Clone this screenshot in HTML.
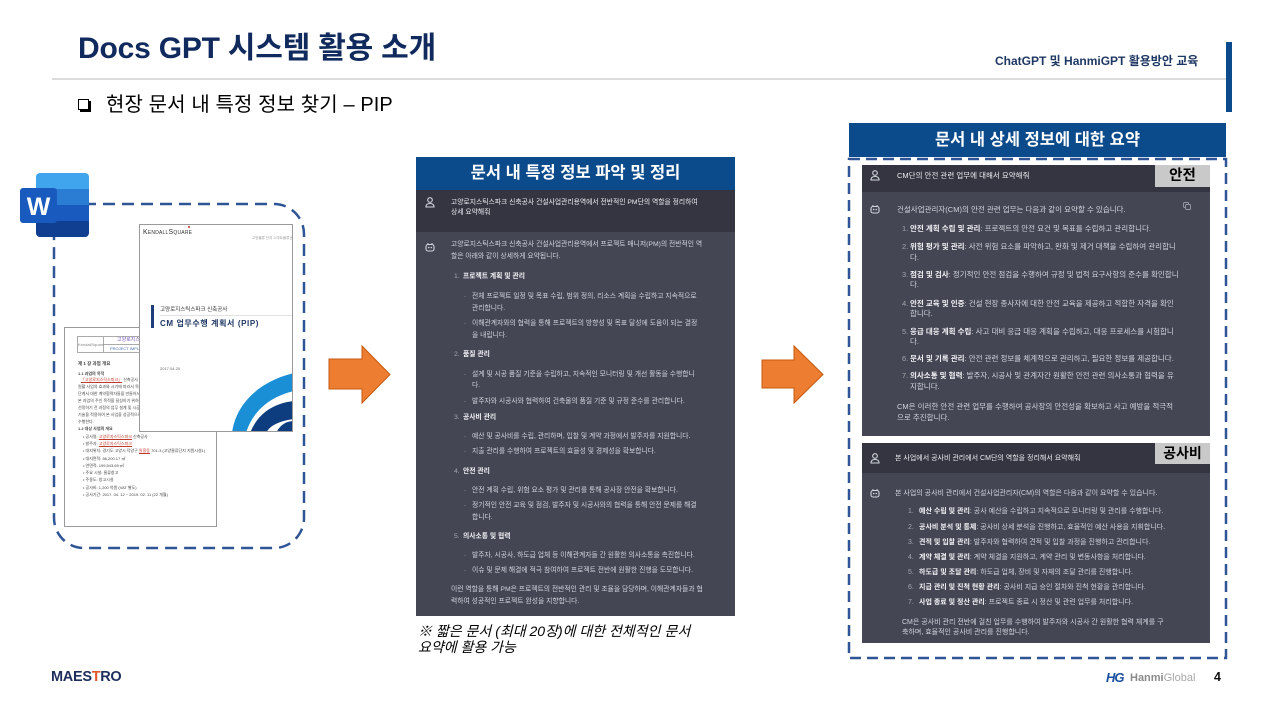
<!DOCTYPE html>
<html>
<head>
<meta charset="utf-8">
<style>
*{margin:0;padding:0;box-sizing:border-box;}
body{width:1280px;height:720px;position:relative;overflow:hidden;background:#fff;font-family:"Liberation Sans","Noto Sans CJK KR",sans-serif;}
.a{position:absolute;white-space:nowrap;}
.mt{position:absolute;white-space:nowrap;font-size:6.8px;line-height:8px;color:#d1d5db;}
.rt{position:absolute;white-space:nowrap;font-size:7.5px;line-height:9px;color:#d1d5db;}
.r2{position:absolute;white-space:nowrap;font-size:7px;line-height:9px;color:#d1d5db;}
.b{font-weight:bold;color:#f1f1f4;}
.n{color:#a3a5ad;}
.d{color:#7d7f88;}
.tiny{position:absolute;white-space:nowrap;font-size:4px;line-height:5px;color:#444;}
</style>
</head>
<body>

<!-- Header -->
<div class="a" style="left:78px;top:30px;font-size:30px;font-weight:bold;color:#102a5e;letter-spacing:-0.2px;line-height:37px;">Docs GPT 시스템 활용 소개</div>
<div class="a" style="left:995px;top:53px;font-size:12px;font-weight:bold;color:#1f3864;line-height:16px;">ChatGPT 및 HanmiGPT 활용방안 교육</div>
<div class="a" style="left:1226px;top:42px;width:6px;height:70px;background:#0b4a8b;"></div>
<div class="a" style="left:52px;top:78px;width:1174px;height:2px;background:#dcdcdc;"></div>

<!-- Subtitle -->
<div class="a" style="left:78px;top:99px;width:11px;height:11px;border:1.5px solid #000;box-shadow:2px 2px 0 #000;background:#fff;"></div>
<div class="a" style="left:106px;top:93px;font-size:20px;color:#000;line-height:25px;letter-spacing:0.1px;">현장 문서 내 특정 정보 찾기 – PIP</div>

<!-- Left dashed box + arrows -->
<svg class="a" style="left:0;top:0;" width="1280" height="720" viewBox="0 0 1280 720">
  <rect x="54" y="204" width="250" height="344" rx="30" ry="30" fill="none" stroke="#2f5597" stroke-width="2.5" stroke-dasharray="12 7"/>
  <rect x="849" y="159" width="377" height="499" fill="none" stroke="#2f5597" stroke-width="2.5" stroke-dasharray="11 6"/>
  <polygon points="329,359 362,359 362,346 390,374.5 362,403 362,389 329,389" fill="#ed7d31" stroke="#c55a11" stroke-width="1"/>
  <polygon points="762,360 794,360 794,346 823,374.5 794,403 794,388 762,388" fill="#ed7d31" stroke="#c55a11" stroke-width="1"/>
</svg>

<!-- Back document page -->
<div class="a" style="left:64px;top:327px;width:153px;height:200px;background:#fff;border:1px solid #9a9a9a;overflow:hidden;">
  <div class="a" style="left:12px;top:8px;width:140px;height:17px;border:1px solid #aaa;"></div>
  <div class="a" style="left:38px;top:8px;width:1px;height:17px;background:#aaa;"></div>
  <div class="a" style="left:38px;top:16px;width:110px;height:1px;background:#aaa;"></div>
  <div class="tiny" style="left:13px;top:14px;color:#888;">KendallSquare</div>
  <div class="tiny" style="left:52px;top:10px;color:#7b5fb8;font-size:5px;">고양로지스틱스파크</div>
  <div class="tiny" style="left:45px;top:18px;color:#4a6fb8;">PROJECT IMPLEMENTATION</div>
  <div class="tiny" style="left:13px;top:33px;font-weight:bold;font-size:4.5px;">제 1 장 과업 개요</div>
  <div class="tiny" style="left:13px;top:43px;font-weight:bold;">1.1 과업의 목적</div>
  <div class="tiny" style="left:16px;top:49px;"><span style="color:#c0392b;text-decoration:underline;">「고양로지스틱스파크」</span> 신축공사 건설사업관리용역의</div>
  <div class="tiny" style="left:13px;top:56px;">원활 사업의 효과와 시기에 따라서 목적물을 확보하기 위한</div>
  <div class="tiny" style="left:13px;top:63px;">단계서 대한 계약협력자들을 만들어서 관리를 통해서</div>
  <div class="tiny" style="left:13px;top:70px;">본 과업의 주인 목적을 달성하기 위하여 건설사업관리</div>
  <div class="tiny" style="left:13px;top:77px;">선정하기 전 과정의 업무 설계 및 시공 단계의 관리</div>
  <div class="tiny" style="left:13px;top:84px;">기술을 적용하여 본 사업을 성공적으로 완료하기 위해</div>
  <div class="tiny" style="left:13px;top:91px;">수행한다.</div>
  <div class="tiny" style="left:13px;top:98px;font-weight:bold;">1.2 대상 사업의 개요</div>
  <div class="tiny" style="left:18px;top:106px;">• 공사명: <span style="color:#c0392b;text-decoration:underline;">고양로지스틱스파크</span> 신축공사</div>
  <div class="tiny" style="left:18px;top:113px;">• 발주자: <span style="color:#c0392b;text-decoration:underline;">고양로지스틱스파크</span></div>
  <div class="tiny" style="left:18px;top:120px;">• 대지위치: 경기도 고양시 덕양구 <span style="color:#c0392b;text-decoration:underline;">원흥동</span> 701-3 (고양물류단지 지원시설1)</div>
  <div class="tiny" style="left:18px;top:128px;">• 대지면적: 56,200.17 ㎡</div>
  <div class="tiny" style="left:18px;top:135px;">• 연면적: 199,543.69 ㎡</div>
  <div class="tiny" style="left:18px;top:142px;">• 주요 시설: 물류창고</div>
  <div class="tiny" style="left:18px;top:149px;">• 주용도: 창고시설</div>
  <div class="tiny" style="left:18px;top:157px;">• 공사비: 1,200 억원 (VAT 별도)</div>
  <div class="tiny" style="left:18px;top:164px;">• 공사기간: 2017. 04. 12 ~ 2019. 02. 11 (22 개월)</div>
</div>

<!-- Front document page -->
<div class="a" style="left:139px;top:224px;width:154px;height:208px;background:#fff;border:1px solid #9a9a9a;overflow:hidden;">
  <div class="a" style="left:3px;top:3px;font-size:7px;color:#333;font-variant:small-caps;letter-spacing:0.2px;line-height:9px;">KendallSquare</div>
  <div class="a" style="left:48px;top:1px;width:2px;height:2px;border-radius:1px;background:#c0392b;"></div>
  <div class="tiny" style="left:112px;top:11px;color:#999;font-size:3.5px;">고양물류 단지 스마트물류센터</div>
  <div class="a" style="left:11px;top:80px;width:3px;height:23px;background:#1f3d7a;"></div>
  <div class="tiny" style="left:20px;top:82px;font-size:5.5px;line-height:6px;color:#333;">고양로지스틱스파크 신축공사</div>
  <div class="a" style="left:20px;top:90px;width:134px;height:1px;background:#e2e2e2;"></div>
  <div class="a" style="left:20px;top:94px;font-size:8px;font-weight:bold;color:#1f3864;letter-spacing:0.6px;line-height:10px;">CM 업무수행 계획서 (PIP)</div>
  <div class="tiny" style="left:20px;top:141px;color:#666;">2017.04.20</div>
  <svg class="a" style="left:0;top:0;" width="154" height="208" viewBox="0 0 154 208">
    <path d="M92 208 C96 178 120 156 154 148 L154 166 C128 172 112 188 106 208 Z" fill="#1a8fd6"/>
    <path d="M110 208 C118 188 134 178 154 176 L154 194 C140 196 130 200 126 208 Z" fill="#0d3d7e"/>
    <path d="M136 208 C140 200 146 196 154 196 L154 208 Z" fill="#0d3d7e"/>
  </svg>
</div>

<!-- Word icon -->
<svg class="a" style="left:20px;top:173px;" width="70" height="65" viewBox="0 0 70 65">
  <defs><clipPath id="wc"><rect x="16" y="0" width="53" height="64" rx="4"/></clipPath></defs>
  <g clip-path="url(#wc)">
    <rect x="16" y="0" width="53" height="16" fill="#41a5ee"/>
    <rect x="16" y="16" width="53" height="16" fill="#2b7cd3"/>
    <rect x="16" y="32" width="53" height="16" fill="#185abd"/>
    <rect x="16" y="48" width="53" height="16" fill="#103f91"/>
  </g>
  <rect x="0" y="15" width="37" height="35" rx="3" fill="#185abd"/>
  <text x="18.5" y="42" text-anchor="middle" font-family="Liberation Sans, sans-serif" font-weight="bold" font-size="25" fill="#fff">W</text>
</svg>

<!-- Middle panel -->
<div class="a" style="left:416px;top:157px;width:319px;height:33px;background:#0b4a8b;color:#fff;font-size:16.5px;font-weight:bold;text-align:center;line-height:33px;">문서 내 특정 정보 파악 및 정리</div>
<div class="a" style="left:416px;top:190px;width:319px;height:42px;background:#343541;"></div>
<div class="a" style="left:416px;top:232px;width:319px;height:384px;background:#444654;"></div>

<svg class="a" style="left:425px;top:197px;" width="10" height="11" viewBox="0 0 10 11"><circle cx="5" cy="3" r="2.3" fill="none" stroke="#d1d5db" stroke-width="1.1"/><path d="M1 10 Q1 6.5 5 6.5 Q9 6.5 9 10 Z" fill="none" stroke="#d1d5db" stroke-width="1.1"/></svg>
<svg class="a" style="left:425px;top:242px;" width="10" height="10" viewBox="0 0 10 10"><rect x="1" y="2.5" width="8" height="6.5" rx="2" fill="none" stroke="#d1d5db" stroke-width="1.1"/><circle cx="3.7" cy="5.5" r="0.8" fill="#d1d5db"/><circle cx="6.3" cy="5.5" r="0.8" fill="#d1d5db"/><path d="M3 2.5 L3 1 M7 2.5 L7 1" stroke="#d1d5db" stroke-width="1"/></svg>

<div class="mt" style="left:451px;top:199px;color:#ececf1;">고양로지스틱스파크 신축공사 건설사업관리용역에서 전반적인 PM단의 역할을 정리하여</div>
<div class="mt" style="left:451px;top:209px;color:#ececf1;">상세 요약해줘</div>

<div class="mt" style="left:451px;top:241px;">고양로지스틱스파크 신축공사 건설사업관리용역에서 프로젝트 매니저(PM)의 전반적인 역</div>
<div class="mt" style="left:451px;top:253px;">할은 아래와 같이 상세하게 요약됩니다.</div>

<div class="mt n" style="left:454px;top:273px;">1.</div><div class="mt b" style="left:463px;top:273px;">프로젝트 계획 및 관리</div>
<div class="mt d" style="left:464px;top:293px;">-</div><div class="mt" style="left:472px;top:293px;">전체 프로젝트 일정 및 목표 수립, 범위 정의, 리소스 계획을 수립하고 지속적으로</div>
<div class="mt" style="left:472px;top:305px;">관리합니다.</div>
<div class="mt d" style="left:464px;top:320px;">-</div><div class="mt" style="left:472px;top:320px;">이해관계자와의 협력을 통해 프로젝트의 방향성 및 목표 달성에 도움이 되는 결정</div>
<div class="mt" style="left:472px;top:332px;">을 내립니다.</div>

<div class="mt n" style="left:454px;top:351px;">2.</div><div class="mt b" style="left:463px;top:351px;">품질 관리</div>
<div class="mt d" style="left:464px;top:371px;">-</div><div class="mt" style="left:472px;top:371px;">설계 및 시공 품질 기준을 수립하고, 지속적인 모니터링 및 개선 활동을 수행합니</div>
<div class="mt" style="left:472px;top:382px;">다.</div>
<div class="mt d" style="left:464px;top:398px;">-</div><div class="mt" style="left:472px;top:398px;">발주자와 시공사와 협력하여 건축물의 품질 기준 및 규정 준수를 관리합니다.</div>

<div class="mt n" style="left:454px;top:414px;">3.</div><div class="mt b" style="left:463px;top:414px;">공사비 관리</div>
<div class="mt d" style="left:464px;top:433px;">-</div><div class="mt" style="left:472px;top:433px;">예산 및 공사비를 수립, 관리하며, 입찰 및 계약 과정에서 발주자를 지원합니다.</div>
<div class="mt d" style="left:464px;top:448px;">-</div><div class="mt" style="left:472px;top:448px;">지출 관리를 수행하여 프로젝트의 효율성 및 경제성을 확보합니다.</div>

<div class="mt n" style="left:454px;top:468px;">4.</div><div class="mt b" style="left:463px;top:468px;">안전 관리</div>
<div class="mt d" style="left:464px;top:487px;">-</div><div class="mt" style="left:472px;top:487px;">안전 계획 수립, 위험 요소 평가 및 관리를 통해 공사장 안전을 확보합니다.</div>
<div class="mt d" style="left:464px;top:502px;">-</div><div class="mt" style="left:472px;top:502px;">정기적인 안전 교육 및 점검, 발주자 및 시공사와의 협력을 통해 안전 문제를 해결</div>
<div class="mt" style="left:472px;top:514px;">합니다.</div>

<div class="mt n" style="left:454px;top:533px;">5.</div><div class="mt b" style="left:463px;top:533px;">의사소통 및 협력</div>
<div class="mt d" style="left:464px;top:552px;">-</div><div class="mt" style="left:472px;top:552px;">발주자, 시공사, 하도급 업체 등 이해관계자들 간 원활한 의사소통을 촉진합니다.</div>
<div class="mt d" style="left:464px;top:567px;">-</div><div class="mt" style="left:472px;top:567px;">이슈 및 문제 해결에 적극 참여하여 프로젝트 전반에 원활한 진행을 도모합니다.</div>

<div class="mt" style="left:451px;top:586px;">이런 역할을 통해 PM은 프로젝트의 전반적인 관리 및 조율을 담당하며, 이해관계자들과 협</div>
<div class="mt" style="left:451px;top:598px;">력하여 성공적인 프로젝트 완성을 지향합니다.</div>

<!-- Note -->
<div class="a" style="left:418px;top:623px;font-size:14px;font-style:italic;color:#000;line-height:16px;">※ 짧은 문서 (최대 20장)에 대한 전체적인 문서</div>
<div class="a" style="left:418px;top:639px;font-size:14px;font-style:italic;color:#000;line-height:16px;">요약에 활용 가능</div>

<!-- Right panel header -->
<div class="a" style="left:849px;top:123px;width:377px;height:34px;background:#0b4a8b;color:#fff;font-size:16.5px;font-weight:bold;text-align:center;line-height:34px;">문서 내 상세 정보에 대한 요약</div>

<!-- Right panel 1 -->
<div class="a" style="left:862px;top:165px;width:348px;height:27px;background:#343541;"></div>
<div class="a" style="left:862px;top:192px;width:348px;height:244px;background:#444654;"></div>
<div class="a" style="left:1155px;top:165px;width:55px;height:22px;background:#c9c9c9;color:#000;font-size:14.5px;font-weight:bold;text-align:center;line-height:22px;">안전</div>

<svg class="a" style="left:870px;top:170px;" width="10" height="11" viewBox="0 0 10 11"><circle cx="5" cy="3" r="2.3" fill="none" stroke="#d1d5db" stroke-width="1.1"/><path d="M1 10 Q1 6.5 5 6.5 Q9 6.5 9 10 Z" fill="none" stroke="#d1d5db" stroke-width="1.1"/></svg>
<svg class="a" style="left:870px;top:204px;" width="10" height="10" viewBox="0 0 10 10"><rect x="1" y="2.5" width="8" height="6.5" rx="2" fill="none" stroke="#d1d5db" stroke-width="1.1"/><circle cx="3.7" cy="5.5" r="0.8" fill="#d1d5db"/><circle cx="6.3" cy="5.5" r="0.8" fill="#d1d5db"/><path d="M3 2.5 L3 1 M7 2.5 L7 1" stroke="#d1d5db" stroke-width="1"/></svg>
<svg class="a" style="left:1183px;top:202px;" width="8" height="8" viewBox="0 0 8 8"><rect x="0.5" y="0.5" width="5" height="5" rx="1" fill="none" stroke="#9a9ca5" stroke-width="0.9"/><rect x="2.5" y="2.5" width="5" height="5" rx="1" fill="#444654" stroke="#9a9ca5" stroke-width="0.9"/></svg>

<div class="rt" style="left:897px;top:170.5px;color:#ececf1;">CM단의 안전 관련 업무에 대해서 요약해줘</div>
<div class="rt" style="left:897px;top:204.5px;">건설사업관리자(CM)의 안전 관련 업무는 다음과 같이 요약할 수 있습니다.</div>

<div class="rt n" style="left:902px;top:223.5px;">1.</div><div class="rt" style="left:910px;top:223.5px;"><span class="b">안전 계획 수립 및 관리</span>: 프로젝트의 안전 요건 및 목표를 수립하고 관리합니다.</div>
<div class="rt n" style="left:902px;top:241.5px;">2.</div><div class="rt" style="left:910px;top:241.5px;"><span class="b">위험 평가 및 관리</span>: 사전 위험 요소를 파악하고, 완화 및 제거 대책을 수립하여 관리합니</div>
<div class="rt" style="left:910px;top:252.5px;">다.</div>
<div class="rt n" style="left:902px;top:269.5px;">3.</div><div class="rt" style="left:910px;top:269.5px;"><span class="b">점검 및 검사</span>: 정기적인 안전 점검을 수행하여 규정 및 법적 요구사항의 준수를 확인합니</div>
<div class="rt" style="left:910px;top:279.5px;">다.</div>
<div class="rt n" style="left:902px;top:298.5px;">4.</div><div class="rt" style="left:910px;top:298.5px;"><span class="b">안전 교육 및 인증</span>: 건설 현장 종사자에 대한 안전 교육을 제공하고 적합한 자격을 확인</div>
<div class="rt" style="left:910px;top:308.5px;">합니다.</div>
<div class="rt n" style="left:902px;top:326.5px;">5.</div><div class="rt" style="left:910px;top:326.5px;"><span class="b">응급 대응 계획 수립</span>: 사고 대비 응급 대응 계획을 수립하고, 대응 프로세스를 시험합니</div>
<div class="rt" style="left:910px;top:336.5px;">다.</div>
<div class="rt n" style="left:902px;top:353.5px;">6.</div><div class="rt" style="left:910px;top:353.5px;"><span class="b">문서 및 기록 관리</span>: 안전 관련 정보를 체계적으로 관리하고, 필요한 정보를 제공합니다.</div>
<div class="rt n" style="left:902px;top:370.5px;">7.</div><div class="rt" style="left:910px;top:370.5px;"><span class="b">의사소통 및 협력</span>: 발주자, 시공사 및 관계자간 원활한 안전 관련 의사소통과 협력을 유</div>
<div class="rt" style="left:910px;top:381.5px;">지합니다.</div>
<div class="rt" style="left:897px;top:401.5px;">CM은 이러한 안전 관련 업무를 수행하여 공사장의 안전성을 확보하고 사고 예방을 적극적</div>
<div class="rt" style="left:897px;top:412.5px;">으로 추진합니다.</div>

<!-- Right panel 2 -->
<div class="a" style="left:862px;top:443px;width:348px;height:30px;background:#343541;"></div>
<div class="a" style="left:862px;top:473px;width:348px;height:170px;background:#444654;"></div>
<div class="a" style="left:1155px;top:443px;width:55px;height:21px;background:#c9c9c9;color:#000;font-size:14px;font-weight:bold;text-align:center;line-height:21px;">공사비</div>

<svg class="a" style="left:870px;top:453px;" width="10" height="11" viewBox="0 0 10 11"><circle cx="5" cy="3" r="2.3" fill="none" stroke="#d1d5db" stroke-width="1.1"/><path d="M1 10 Q1 6.5 5 6.5 Q9 6.5 9 10 Z" fill="none" stroke="#d1d5db" stroke-width="1.1"/></svg>
<svg class="a" style="left:870px;top:488px;" width="10" height="10" viewBox="0 0 10 10"><rect x="1" y="2.5" width="8" height="6.5" rx="2" fill="none" stroke="#d1d5db" stroke-width="1.1"/><circle cx="3.7" cy="5.5" r="0.8" fill="#d1d5db"/><circle cx="6.3" cy="5.5" r="0.8" fill="#d1d5db"/><path d="M3 2.5 L3 1 M7 2.5 L7 1" stroke="#d1d5db" stroke-width="1"/></svg>

<div class="r2" style="left:895px;top:453.5px;color:#ececf1;">본 사업에서 공사비 관리에서 CM단의 역할을 정리해서 요약해줘</div>
<div class="r2" style="left:895px;top:488.5px;">본 사업의 공사비 관리에서 건설사업관리자(CM)의 역할은 다음과 같이 요약할 수 있습니다.</div>

<div class="r2 n" style="left:908px;top:506.5px;">1.</div><div class="r2" style="left:919px;top:506.5px;"><span class="b">예산 수립 및 관리</span>: 공사 예산을 수립하고 지속적으로 모니터링 및 관리를 수행합니다.</div>
<div class="r2 n" style="left:908px;top:522.5px;">2.</div><div class="r2" style="left:919px;top:522.5px;"><span class="b">공사비 분석 및 통제</span>: 공사비 상세 분석을 진행하고, 효율적인 예산 사용을 지휘합니다.</div>
<div class="r2 n" style="left:908px;top:537.5px;">3.</div><div class="r2" style="left:919px;top:537.5px;"><span class="b">견적 및 입찰 관리</span>: 발주자와 협력하여 견적 및 입찰 과정을 진행하고 관리합니다.</div>
<div class="r2 n" style="left:908px;top:552.5px;">4.</div><div class="r2" style="left:919px;top:552.5px;"><span class="b">계약 체결 및 관리</span>: 계약 체결을 지원하고, 계약 관리 및 변동사항을 처리합니다.</div>
<div class="r2 n" style="left:908px;top:567.5px;">5.</div><div class="r2" style="left:919px;top:567.5px;"><span class="b">하도급 및 조달 관리</span>: 하도급 업체, 장비 및 자재의 조달 관리를 진행합니다.</div>
<div class="r2 n" style="left:908px;top:582.5px;">6.</div><div class="r2" style="left:919px;top:582.5px;"><span class="b">지급 관리 및 진척 현황 관리</span>: 공사비 지급 승인 절차와 진척 현황을 관리합니다.</div>
<div class="r2 n" style="left:908px;top:597.5px;">7.</div><div class="r2" style="left:919px;top:597.5px;"><span class="b">사업 종료 및 정산 관리</span>: 프로젝트 종료 시 정산 및 관련 업무를 처리합니다.</div>
<div class="r2" style="left:902px;top:617.5px;">CM은 공사비 관리 전반에 걸친 업무를 수행하여 발주자와 시공사 간 원활한 협력 체계를 구</div>
<div class="r2" style="left:902px;top:627.5px;">축하며, 효율적인 공사비 관리를 진행합니다.</div>

<!-- Footer -->
<div class="a" style="left:51px;top:668px;font-size:14.5px;font-weight:bold;color:#1f2d5c;line-height:18px;letter-spacing:-0.3px;">MAES<span style="color:#e0582b;">T</span>RO</div>
<div class="a" style="left:1106px;top:670px;font-size:13px;font-weight:bold;font-style:italic;color:#1b4fa0;line-height:15px;letter-spacing:-1px;">HG</div>
<div class="a" style="left:1130px;top:671px;font-size:11px;color:#8a8a8a;line-height:14px;"><b>Hanmi</b><span style="color:#a8a8a8;">Global</span></div>
<div class="a" style="left:1214px;top:670px;font-size:12.5px;font-weight:bold;color:#111;line-height:15px;">4</div>

</body>
</html>
